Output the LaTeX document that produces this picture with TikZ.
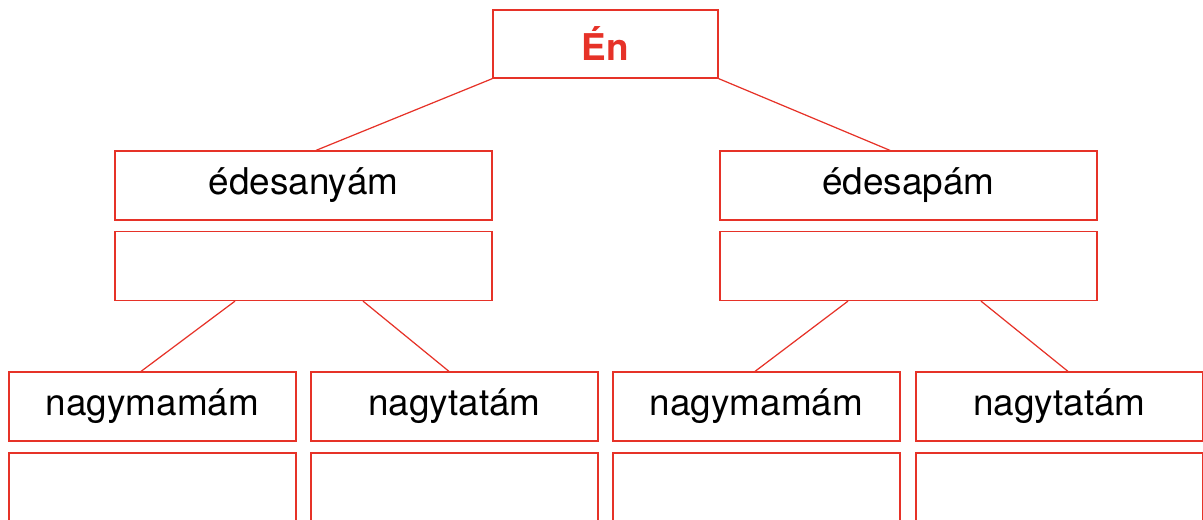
\documentclass[tikz,border=0pt]{standalone}
\usepackage{fontspec}
\setmainfont{TeX Gyre Heros}
\usepackage{tikz}
\usetikzlibrary{calc}
\usepackage{xcolor}
\definecolor{famred}{RGB}{230,50,40}

\begin{document}
\begin{tikzpicture}[x=0.02cm, y=-0.02cm]
  \tikzstyle{myline}=[line width=0.7pt, draw=famred];
  \tikzstyle{mybox}=[myline, rectangle, inner sep=0pt, text=black,
    font=\fontsize{21}{25}\selectfont];
  \tikzstyle{parentbox}=[mybox, minimum width=7.54cm, minimum height=1.38cm];
  \tikzstyle{grandbox}=[mybox, minimum width=5.74cm, minimum height=1.38cm];
  %
  \clip (0, 0) rectangle (1203, 520);
  %
  % me
  \node[mybox, minimum width=4.5cm, minimum height=1.36cm, text=famred,
    font=\fontsize{21}{25}\selectfont\bfseries] (en) at (605.5, 44) {Én};
  %
  % parents
  \node[parentbox] (anya) at (303.5, 185.5) {édesanyám};
  \node[parentbox] (anyab) at (303.5, 266) {};
  %
  \node[parentbox] (apa) at (908.5, 185.5) {édesapám};
  \node[parentbox] (apab) at (908.5, 266) {};
  %
  % grandparents
  \node[grandbox] (nagymama1) at (152.5, 406.5) {nagymamám};
  \node[grandbox] (nagymama1b) at (152.5, 487.5) {};
  \node[grandbox] (nagytata1) at (454.5, 406.5) {nagytatám};
  \node[grandbox] (nagytata1b) at (454.5, 487.5) {};
  %
  \node[grandbox] (nagymama2) at (756.5, 406.5) {nagymamám};
  \node[grandbox] (nagymama2b) at (756.5, 487.5) {};
  \node[grandbox] (nagytata2) at (1059.5, 406.5) {nagytatám};
  \node[grandbox] (nagytata2b) at (1059.5, 487.5) {};
  %
  % connections
  \draw[myline] (en.south west) -- ($(anya.north) + (0.25cm, 0)$);
  \draw[myline] (en.south east) -- ($(apa.north) - (0.37cm, 0)$);
  %
  \draw[myline] ($(anyab.south) - (1.37cm, 0)$)
  -- ($(nagymama1.north) - (0.23cm, 0)$);
  \draw[myline] ($(anyab.south) + (1.19cm, 0)$)
  -- ($(nagytata1.north) - (0.11cm, 0)$);
  %
  \draw[myline] ($(apab.south) - (1.21cm, 0)$)
  -- ($(nagymama2.north) - (0.03cm, 0)$);
  \draw[myline] ($(apab.south) + (1.45cm, 0)$)
  -- ($(nagytata2.north) + (0.17cm, 0)$);
\end{tikzpicture}
\end{document}
